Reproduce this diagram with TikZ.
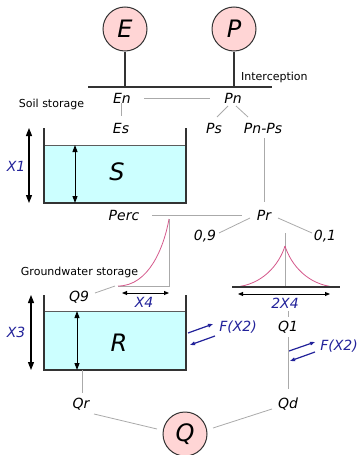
\documentclass[tikz,border=0pt]{standalone}
\usepackage{fontspec}
\setmainfont{DejaVu Sans}
\usetikzlibrary{arrows.meta,calc}
\definecolor{pinkfill}{HTML}{FFD5D5}
\definecolor{waterc}{HTML}{CCFFFF}
\definecolor{lblue}{HTML}{22229A}
\definecolor{conng}{HTML}{AAAAAA}
\definecolor{darkl}{HTML}{333333}
\definecolor{curvec}{HTML}{D4588B}
\tikzset{
  bigvar/.style={circle,draw=darkl,line width=1pt,fill=pinkfill,minimum size=44pt,inner sep=0pt,font=\fontsize{24}{24}\selectfont\itshape},
  var/.style={inner sep=0pt,font=\fontsize{14}{14}\selectfont\itshape},
  par/.style={inner sep=0pt,text=lblue,font=\fontsize{14}{14}\selectfont\itshape},
  note/.style={inner sep=0pt,font=\fontsize{11}{11}\selectfont},
  bigletter/.style={inner sep=0pt,font=\fontsize{24}{24}\selectfont\itshape},
  conn/.style={draw=conng,line width=0.8pt},
  tank/.style={draw=darkl,line width=1.3pt},
  water/.style={fill=waterc,draw=none},
  level/.style={draw=darkl!80,line width=1pt},
  bigarr/.style={line width=1.1pt,{Triangle[length=8pt,width=6pt]}-{Triangle[length=8pt,width=6pt]}},
  midarr/.style={line width=1pt,{Triangle[length=7pt,width=5pt]}-{Triangle[length=7pt,width=5pt]}},
  smallarr/.style={line width=0.9pt,{Triangle[length=5pt,width=4pt]}-{Triangle[length=5pt,width=4pt]}},
  exch/.style={draw=lblue,line width=1.2pt,-{Triangle[length=5pt,width=3.5pt]}},
  hydro/.style={draw=curvec,line width=0.8pt}
}
\begin{document}
\begin{tikzpicture}[x=1pt,y=-1pt]
\useasboundingbox (0,0) rectangle (360,455);

% top inputs
\node[bigvar] (E) at (125,29) {E};
\node[bigvar] (P) at (234,29) {P};
\coordinate (interL) at (88,87);
\coordinate (interR) at (272,87);
\draw[darkl,line width=1.5pt] (interL) -- (interR);
\draw[darkl,line width=1.2pt] (E.south) -- (E.south |- interL);
\draw[darkl,line width=1.2pt] (P.south) -- (P.south |- interL);
\node[note,anchor=west] (interc) at (241,77) {Interception};
\node[note] (soil) at (51.5,104) {Soil storage};

\node[var] (En) at (122,98) {En};
\node[var] (Pn) at (233,98) {Pn};
\node[var] (Es) at (121,128) {Es};
\node[var] (Ps) at (214,128) {Ps};
\node[var] (PnPs) at (263,128) {Pn-Ps};
\draw[conn] ($(En)+(22,0)$) -- ($(Pn)+(-23,0)$);
\draw[conn] ($(En)+(-1,5)$) -- ($(Es)+(0,-12)$);
\draw[conn] ($(Pn)+(-5,8)$) -- ($(Ps)+(3,-11)$);
\draw[conn] ($(Pn)+(3,8)$) -- ($(PnPs)+(-15,-11)$);

% soil tank
\fill[water] (44,145) rectangle (186,203);
\draw[level] (44,145) -- (186,145);
\draw[tank] (44,128) -- (44,203) -- (186,203) -- (186,128);
\coordinate (sTop) at (75,145);
\coordinate (sBot) at (75,203);
\draw[midarr] (sTop) -- (sBot);
\coordinate (x1T) at (29,128);
\coordinate (x1B) at (29,203);
\draw[bigarr] (x1T) -- (x1B);
\node[par] (X1) at (16,166) {X1};
\node[bigletter] (S) at (117,172) {S};

% Perc / Pr
\node[var] (Perc) at (124,215) {Perc};
\node[var] (Pr) at (264,215) {Pr};
\draw[conn] ($(PnPs)+(1,10)$) -- ($(Pr)+(0,-13)$);
\draw[conn] ($(Perc)+(28,0)$) -- ($(Pr)+(-22,0)$);
\node[var] (n09) at (205,236) {0,9};
\node[var] (n01) at (325,236) {0,1};
\draw[conn] ($(Pr)+(-14,3)$) -- ($(n09)+(14,-3)$);
\draw[conn] ($(Pr)+(14,3)$) -- ($(n01)+(-13,-3)$);

% left unit hydrograph
\coordinate (h1s) at (118,286);
\coordinate (h1t) at (169,219);
\coordinate (h1c) at (169,286);
\draw[conn] (h1t) -- (h1c) -- (h1s);
\draw[hydro] (h1s) .. controls (149,286) and (164,247) .. (h1t);
\node[note] (gw) at (79.5,272) {Groundwater storage};
\node[var] (Q9) at (79,297) {Q9};
\draw[conn] ($(Q9)+(16,-4)$) -- ($(h1s)+(-3,0)$);
\coordinate (x4L) at (122,293);
\coordinate (x4R) at (169,293);
\draw[smallarr] (x4L) -- (x4R);
\node[par] (X4) at (144,302) {X4};

% right unit hydrograph
\coordinate (h2l) at (232,287);
\coordinate (h2r) at (340,287);
\coordinate (h2t) at (285,233);
\coordinate (h2b) at (285,287);
\coordinate (h2p) at (285,246);
\draw[conn] (h2t) -- (h2b);
\draw[hydro] (h2p) .. controls (279,265) and (262,285) .. (235,287);
\draw[hydro] (h2p) .. controls (291,265) and (308,285) .. (335,287);
\draw[darkl,line width=1.3pt] (h2l) -- (h2r);
\coordinate (x24L) at (238,294);
\coordinate (x24R) at (330,294);
\draw[smallarr] (x24L) -- (x24R);
\node[par] (X24) at (285,303) {2X4};
\node[var] (Q1) at (288,327) {Q1};
\draw[conn] ($(Q1)+(0,-16)$) -- ($(Q1)+(0,-10)$);

% groundwater tank
\fill[water] (44,311) rectangle (186,370);
\draw[level] (44,311) -- (186,311);
\draw[tank] (44,295) -- (44,370) -- (186,370) -- (186,295);
\coordinate (rTop) at (77,311);
\coordinate (rBot) at (77,370);
\draw[midarr] (rTop) -- (rBot);
\coordinate (x3T) at (31,295);
\coordinate (x3B) at (31,370);
\draw[bigarr] (x3T) -- (x3B);
\node[par] (X3) at (16,332) {X3};
\node[bigletter] (R) at (119,343) {R};

% exchanges
\coordinate (f1a) at (188,333);
\coordinate (f1b) at (213,324);
\coordinate (f1c) at (215,336);
\coordinate (f1d) at (190,345);
\draw[exch] (f1a) -- (f1b);
\draw[exch] (f1c) -- (f1d);
\node[par] (F1) at (238,327) {F(X2)};
\coordinate (f2a) at (289,351);
\coordinate (f2b) at (315,342);
\coordinate (f2c) at (315,352);
\coordinate (f2d) at (290,361);
\draw[exch] (f2a) -- (f2b);
\draw[exch] (f2c) -- (f2d);
\node[par] (F2) at (339,346) {F(X2)};

% outputs
\node[var] (Qr) at (81,404) {Qr};
\node[var] (Qd) at (288,404) {Qd};
\node[bigvar] (Q) at (185,434) {Q};
\coordinate (rOut) at (82,370);
\draw[conn] (rOut) -- ($(Qr)+(1,-11)$);
\draw[conn] ($(Q1)+(0,10)$) -- ($(Qd)+(0,-15)$);
\draw[conn] ($(Qr)+(13,10)$) -- ($(Q)+(-28,-5)$);
\draw[conn] ($(Q)+(28,-6)$) -- ($(Qd)+(-16,5)$);
\end{tikzpicture}
\end{document}
